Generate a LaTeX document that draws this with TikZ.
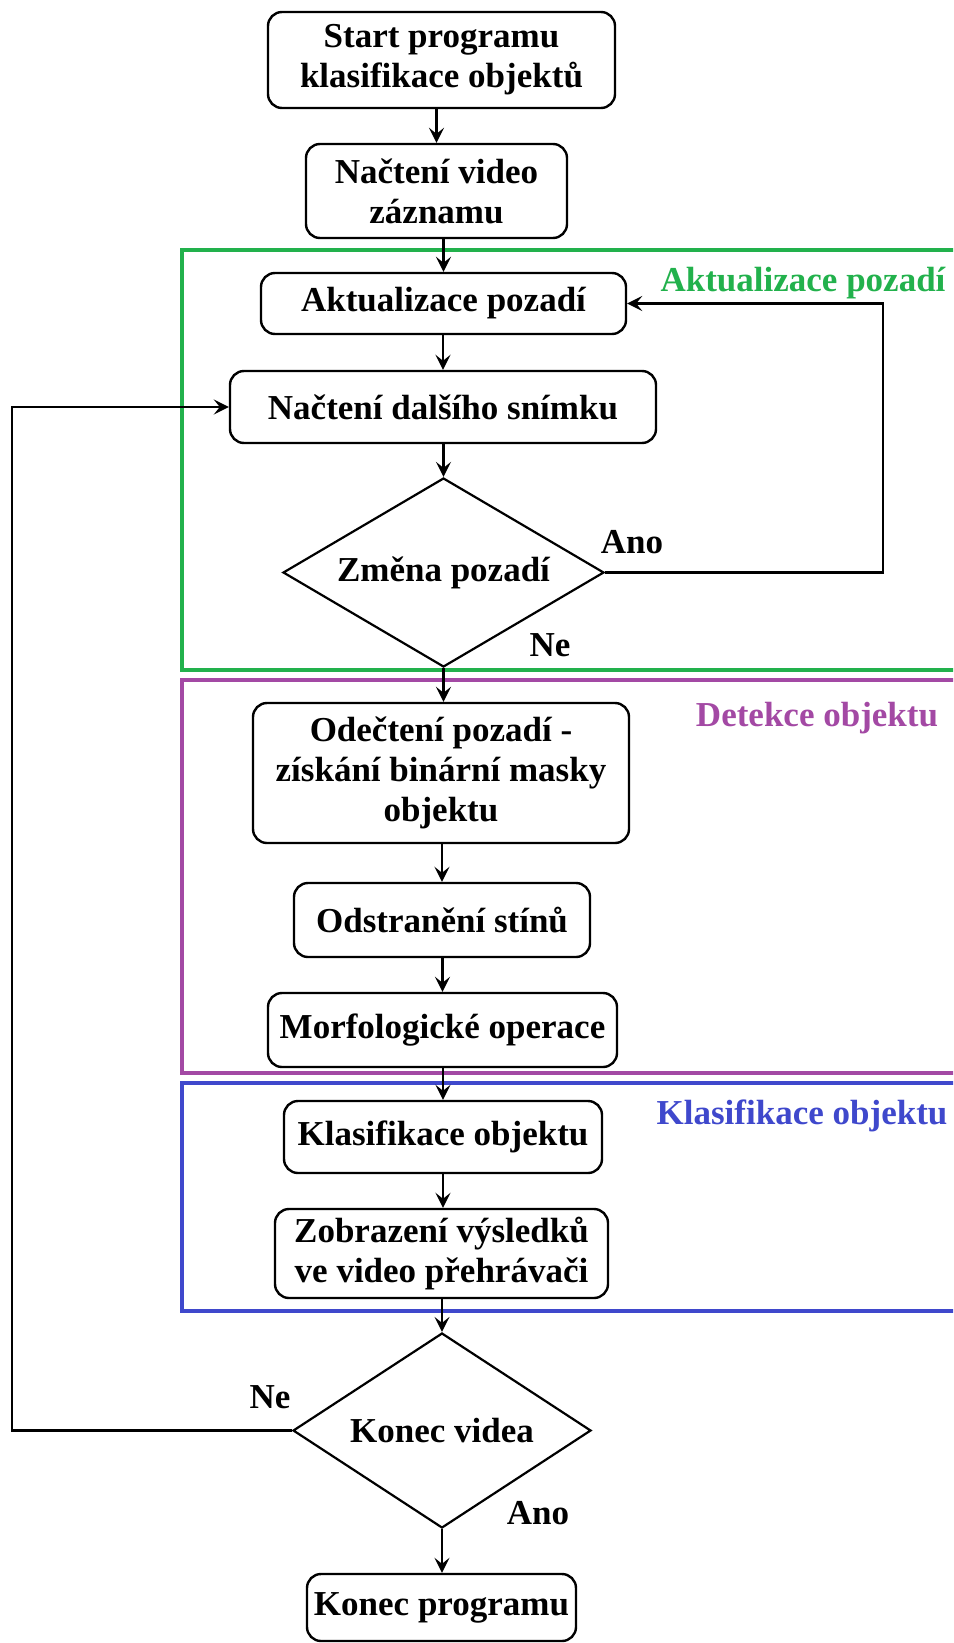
\documentclass[tikz,border=0pt]{standalone}
\usepackage{fontspec}
\setmainfont{Liberation Serif}
\usetikzlibrary{shapes.geometric,arrows.meta}
\definecolor{grpgreen}{RGB}{34,177,76}
\definecolor{grppurple}{RGB}{163,73,164}
\definecolor{grpblue}{RGB}{63,72,204}
\begin{document}
\begin{tikzpicture}[x=1pt,y=-1pt,
  txt/.style={font=\fontsize{35}{40}\selectfont\bfseries},
  box/.style={txt,draw,line width=2.4pt,rounded corners=14pt,align=center,inner sep=0pt},
  dec/.style={txt,draw,line width=2.2pt,shape=diamond,aspect=1.7,inner sep=0pt},
  arr/.style={line width=2.2pt,-{Stealth[length=15pt,width=15pt,inset=6pt]}},
  backarr/.style={line width=2.8pt,-{Stealth[length=15pt,width=15pt,inset=6pt]}},
  grp/.style={line width=4pt}]
\useasboundingbox (0,0) rectangle (953,1643);
\clip (0,0) rectangle (953,1643);

% group frames
\draw[grp,grpgreen] (182,250) rectangle (985,670);
\draw[grp,grppurple] (182,680) rectangle (985,1073);
\draw[grp,grpblue] (182,1083) rectangle (985,1311);
\node[txt,text=grpgreen] (lg) at (803,283) {Aktualizace pozadí};
\node[txt,text=grppurple] (lp) at (817,718) {Detekce objektu};
\node[txt,text=grpblue] (lb) at (802,1116) {Klasifikace objektu};

% nodes
\node[box,minimum width=347pt,minimum height=96pt] (start) at (441.5,60) {Start programu\\klasifikace objektů};
\node[box,minimum width=261pt,minimum height=94pt] (video) at (436.5,191) {Načtení video\\záznamu};
\node[box,minimum width=365pt,minimum height=61pt] (akt) at (443.5,303.5) {Aktualizace pozadí};
\node[box,minimum width=426pt,minimum height=72pt] (dalsi) at (443,407) {Načtení dalšího snímku};
\node[dec,minimum width=321pt,minimum height=189pt] (zmena) at (443.5,572.5) {Změna pozadí};
\node[box,minimum width=376pt,minimum height=140pt] (odec) at (441,773) {Odečtení pozadí -\\získání binární masky\\objektu};
\node[box,minimum width=296pt,minimum height=74pt] (odst) at (442,920) {Odstranění stínů};
\node[box,minimum width=349pt,minimum height=74pt] (morf) at (442.5,1030) {Morfologické operace};
\node[box,minimum width=318pt,minimum height=72pt] (klas) at (443,1137) {Klasifikace objektu};
\node[box,minimum width=333pt,minimum height=89pt] (zobr) at (441.5,1253.5) {Zobrazení výsledků\\ve video přehrávači};
\node[dec,minimum width=298pt,minimum height=195pt] (konv) at (442,1430.5) {Konec videa};
\node[box,minimum width=269pt,minimum height=67pt] (konp) at (441.5,1607.5) {Konec programu};

% edge labels
\node[txt] (ano1) at (632,542) {Ano};
\node[txt] (ne1) at (550,645) {Ne};
\node[txt] (ne2) at (270,1397) {Ne};
\node[txt] (ano2) at (538,1513) {Ano};

% main flow
\draw[arr] (video.north |- start.south) -- (video.north);
\draw[arr] (akt.north |- video.south) -- (akt.north);
\draw[arr] (dalsi.north |- akt.south) -- (dalsi.north);
\draw[arr] (zmena.north |- dalsi.south) -- (zmena.north);
\draw[arr] (zmena.south) -- (zmena.south |- odec.north);
\draw[arr] (odst.north |- odec.south) -- (odst.north);
\draw[arr] (morf.north |- odst.south) -- (morf.north);
\draw[arr] (klas.north |- morf.south) -- (klas.north);
\draw[arr] (klas.south) -- (klas.south |- zobr.north);
\draw[arr] (konv.north |- zobr.south) -- (konv.north);
\draw[arr] (konv.south) -- (konv.south |- konp.north);

% loops
\coordinate (rr) at (883,572.5);
\draw[backarr] (zmena.east) -- (rr) |- (akt.east);
\coordinate (ll) at (12,1430.5);
\draw[backarr] (konv.west) -- (ll) |- (dalsi.west);
\end{tikzpicture}
\end{document}
